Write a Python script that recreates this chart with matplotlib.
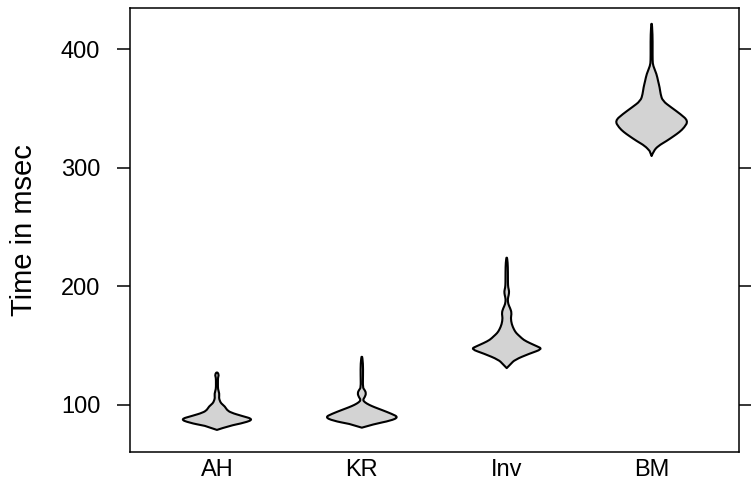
"""
Violin plot of timing results (msec) for four methods, lattice-style look.
"""
import numpy as np
import matplotlib
matplotlib.use("Agg")
import matplotlib.pyplot as plt
from matplotlib.path import Path
from matplotlib.patches import PathPatch

plt.rcParams['font.family'] = ['Liberation Sans', 'DejaVu Sans']

categories = ["AH", "KR", "Inv", "BM"]
y_ticks = [100, 200, 300, 400]

# density outline of each violin:
# y values (msec) and relative half-width (1 = widest point)
ah_y = [78.9, 82.3, 85.0, 87.9, 90.7, 93.5, 95.8, 98.6, 101.4, 103.5, 105.7,
        109.5, 113.3, 118.0, 123.0, 125.4, 128.1]
ah_w = [0, 0.33, 0.76, 1.0, 0.68, 0.38, 0.27, 0.22, 0.11, 0.08, 0.055,
        0.068, 0.027, 0.027, 0.027, 0.055, 0]

kr_y = [80.8, 83.9, 86.7, 89.6, 92.4, 95.8, 98.0, 100.0, 102.2, 104.2, 106.5,
        109.9, 113.0, 114.5, 125.0, 135.0, 143.0]
kr_w = [0, 0.34, 0.79, 1.0, 0.82, 0.54, 0.35, 0.2, 0.08, 0.027, 0.08,
        0.12, 0.068, 0.027, 0.033, 0.033, 0]

inv_y = [131.0, 134.5, 138.0, 143.1, 147.1, 149.5, 152.1, 154.8, 157.7, 160.5,
         163.4, 168.0, 173.3, 177.5, 181.5, 185.0, 189.3, 192.5, 195.8, 199.0,
         203.0, 212.0, 220.0, 225.9]
inv_w = [0, 0.11, 0.22, 0.61, 0.98, 0.82, 0.63, 0.46, 0.36, 0.26,
         0.2, 0.136, 0.11, 0.136, 0.095, 0.04, 0.027, 0.055, 0.068, 0.04,
         0.033, 0.033, 0.027, 0]

bm_y = [309.8, 314.1, 318.3, 322.5, 326.7, 330.0, 333.8, 339.4, 345.1, 350.7,
        356.3, 362.0, 367.6, 373.0, 378.9, 386.0, 390.1, 400.0, 412.0, 425.4]
bm_w = [0, 0.055, 0.18, 0.41, 0.61, 0.76, 0.89, 1.0, 0.79, 0.54,
        0.3, 0.245, 0.22, 0.177, 0.136, 0.04, 0.027, 0.027, 0.027, 0]

profiles = [(ah_y, ah_w), (kr_y, kr_w), (inv_y, inv_w), (bm_y, bm_w)]

half_width = 0.253  # widest half-width in category units
fill_col = "#d3d3d3"


def smooth_outline(xs, ys):
    # closed quadratic B-spline through the midpoints of the outline points
    pts = np.column_stack([xs, ys])
    verts = [pts[0]]
    codes = [Path.MOVETO]
    for i in range(1, len(pts) - 1):
        mid = (pts[i] + pts[i + 1]) / 2
        verts += [pts[i], mid]
        codes += [Path.CURVE3, Path.CURVE3]
    verts.append(pts[-1])
    codes.append(Path.LINETO)
    verts.append(pts[0])
    codes.append(Path.CLOSEPOLY)
    return Path(verts, codes)


fig = plt.figure(figsize=(7.51, 4.87), dpi=100)
ax = fig.add_axes([0.1731, 0.0719, 0.8103, 0.9117])

for i, (py, pw) in enumerate(profiles):
    pos = i + 1
    py = np.array(py)
    pw = np.array(pw) * half_width
    # right side bottom->top, then left side top->bottom
    xs = np.concatenate([pos + pw, (pos - pw)[::-1][1:-1]])
    ys = np.concatenate([py, py[::-1][1:-1]])
    patch = PathPatch(smooth_outline(xs, ys), facecolor=fill_col,
                      edgecolor="black", lw=1.5, joinstyle="round")
    ax.add_patch(patch)

ax.set_xlim(0.4, 4.6)
ax.set_ylim(60.3, 434.6)

ax.set_xticks(range(1, len(categories) + 1))
ax.set_xticklabels(categories)
ax.set_yticks(y_ticks)

ax.tick_params(axis="x", length=0, pad=5, labelsize=17)
ax.tick_params(axis="y", which="both", direction="out", length=9.5, width=1.1,
               pad=12, labelsize=17, right=True, labelright=False)

for s in ax.spines.values():
    s.set_linewidth(1.1)

ax.set_ylabel("Time in msec", fontsize=21)
ax.yaxis.set_label_coords(-0.151, 0.5)

fig.savefig("out.png", dpi=100)
